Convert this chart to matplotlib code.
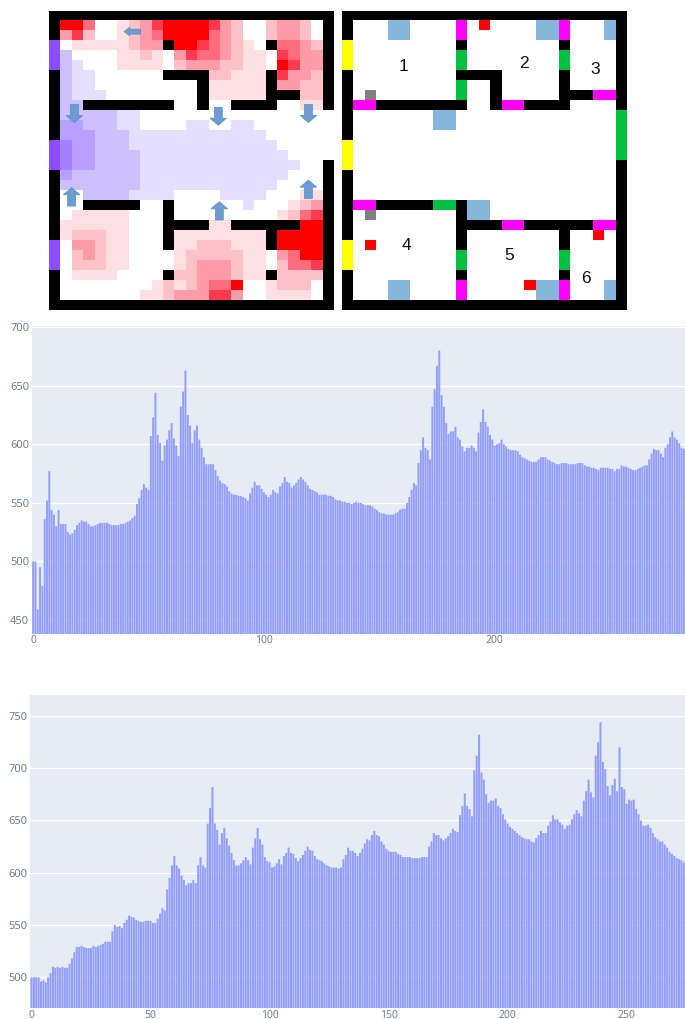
import numpy as np
import matplotlib
matplotlib.use("Agg")
import matplotlib.pyplot as plt
from matplotlib.colors import to_rgb
from matplotlib.patches import FancyArrow

plt.rcParams["font.family"] = ["Open Sans", "DejaVu Sans"]

W, H = 685, 1019

# ── Map grids (25 x 30 cells) ───────────────────────────────────────────────
# 1-6 red levels, p-s purple levels, P door purple, # wall, . empty
HEAT_ROWS = [
    "#########################",
    "#664..12356666532..2332.#",
    "#352..12346666432..2332.#",
    "P.11111233#6654321.#4432#",
    "Pq....1121.35443211.5433#",
    "Pqp...1111.23332211.6533#",
    "#qpp......####22111#5332#",
    "#qpp.........#11111#3322#",
    "#qppp........#11111###22#",
    "#qq########..#..####..11#",
    "#qqqqqpp.................",
    "#rrqqqpp....pp..pp.......",
    "#rrrqqqpppppppppppp......",
    "Psrrqqqppppppppppppp.....",
    "Psrrqqqqppppppppppppp....",
    "Psrrqqqqpppppppppppppp..#",
    "#rqqqqqqppppppppppppp...#",
    "#qqqqqqqpppppppppppp....#",
    "#..qqqqpppp....pppp...11#",
    "#..#####..#......p...123#",
    "#.11111...#.........1245#",
    "#111111...####11######66#",
    "#122211...#11111111#6666#",
    "P.33211...#11222111#6666#",
    "P.23211....12222211.3466#",
    "P.22211....12333211.2445#",
    "#.1111....#22333211#2222#",
    "#........12123446..1222.#",
    "#.......112333553..1111.#",
    "#########################",
]

# Y exit, G open door, M closed door, B furniture, R fire, S grey marker
LAYOUT_ROWS = [
    "#########################",
    "#...BB....M.R....BBM...B#",
    "#...BB....M......BBM...B#",
    "Y.........#........#....#",
    "Y.........G........G....#",
    "Y.........G........G....#",
    "#.........####.....#....#",
    "#.........G..#.....#....#",
    "#.S.......G..#.....###MM#",
    "#MM########..#MM####....#",
    "#.......BB..............G",
    "#.......BB..............G",
    "#.......................G",
    "Y.......................G",
    "Y.......................G",
    "Y.......................#",
    "#.......................#",
    "#.......................#",
    "#.......................#",
    "#MM#####GG#BB...........#",
    "#.S.......#BB...........#",
    "#.........####MM######MM#",
    "#.........#........#..R.#",
    "Y.R.......#........#....#",
    "Y.........G........G....#",
    "Y.........G........G....#",
    "#.........#........#....#",
    "#...BB....M.....RBBM...B#",
    "#...BB....M......BBM...B#",
    "#########################",
]

ROOM_LABELS = ["1", "2", "3", "4", "5", "6"]

# ── Bar series ──────────────────────────────────────────────────────────────
COUNTS_TOP = [
    500, 500, 459, 495, 479, 536, 552, 577, 544, 540, 530, 544, 532, 532, 532,
    525, 523, 524, 527, 531, 533, 535, 534, 534, 532, 530, 530, 531, 532, 533,
    533, 533, 533, 532, 531, 531, 531, 531, 532, 532, 533, 534, 535, 537, 539,
    549, 554, 561, 566, 563, 561, 607, 623, 644, 608, 601, 586, 599, 604, 612,
    618, 605, 599, 590, 632, 645, 663, 625, 616, 601, 612, 616, 604, 597, 589,
    583, 583, 583, 583, 578, 573, 569, 567, 566, 564, 560, 558, 557, 557, 556,
    556, 555, 554, 552, 558, 563, 568, 565, 565, 562, 559, 557, 555, 557, 561,
    559, 558, 564, 567, 572, 568, 567, 563, 565, 567, 570, 572, 570, 568, 565,
    562, 561, 560, 559, 557, 557, 557, 557, 556, 556, 555, 553, 552, 552, 551,
    551, 550, 550, 549, 550, 551, 550, 550, 549, 548, 548, 548, 547, 545, 544,
    542, 541, 541, 540, 540, 540, 540, 541, 542, 544, 545, 545, 550, 555, 561,
    567, 565, 584, 595, 606, 597, 595, 587, 632, 647, 667, 680, 642, 632, 618,
    609, 611, 611, 615, 606, 604, 598, 594, 597, 597, 599, 597, 594, 610, 619,
    630, 619, 615, 608, 604, 599, 600, 601, 604, 600, 598, 596, 595, 595, 595,
    594, 591, 589, 588, 587, 586, 585, 585, 585, 587, 589, 589, 589, 587, 586,
    585, 584, 583, 583, 584, 584, 584, 583, 583, 583, 583, 584, 584, 584, 582,
    581, 581, 580, 580, 579, 578, 580, 580, 580, 580, 579, 579, 577, 579, 579,
    582, 581, 581, 580, 579, 578, 578, 579, 580, 581, 582, 582, 587, 592, 596,
    595, 595, 592, 589, 597, 600, 606, 611, 606, 604, 601, 597, 596,
]

COUNTS_BOTTOM = [
    500, 500, 500, 500, 496, 497, 495, 500, 504, 510, 509, 510, 509, 510, 509,
    509, 513, 518, 524, 529, 529, 530, 529, 528, 528, 528, 530, 529, 530, 531,
    532, 534, 534, 534, 544, 550, 548, 549, 547, 552, 555, 559, 558, 557, 555,
    554, 553, 553, 554, 554, 554, 552, 552, 556, 561, 566, 564, 584, 595, 607,
    616, 607, 604, 597, 593, 588, 590, 590, 593, 590, 607, 615, 607, 605, 647,
    662, 682, 647, 641, 627, 638, 643, 633, 626, 619, 612, 607, 607, 609, 612,
    615, 612, 608, 624, 633, 643, 632, 627, 615, 611, 610, 605, 606, 609, 613,
    608, 616, 619, 624, 619, 618, 614, 611, 614, 617, 621, 625, 622, 621, 616,
    613, 612, 611, 609, 607, 606, 605, 605, 605, 604, 605, 613, 617, 624, 621,
    621, 619, 616, 619, 623, 628, 632, 631, 636, 640, 636, 635, 630, 627, 623,
    621, 620, 620, 620, 618, 617, 615, 615, 615, 615, 614, 614, 614, 614, 615,
    615, 615, 625, 630, 638, 636, 636, 633, 631, 633, 635, 638, 642, 640, 639,
    655, 664, 676, 664, 661, 654, 698, 712, 732, 696, 689, 675, 667, 669, 669,
    671, 664, 662, 656, 651, 647, 644, 642, 640, 638, 636, 634, 633, 632, 632,
    630, 629, 633, 636, 640, 638, 638, 645, 649, 655, 651, 651, 648, 646, 642,
    645, 646, 651, 656, 660, 657, 654, 669, 678, 689, 677, 672, 712, 725, 744,
    706, 699, 683, 674, 684, 690, 678, 720, 682, 680, 666, 670, 669, 670, 661,
    656, 650, 645, 645, 646, 643, 638, 634, 632, 630, 630, 627, 624, 620, 618,
    616, 614, 613, 612, 610,
]

XTICKS_TOP = [0, 100, 200]
YTICKS_TOP = [450, 500, 550, 600, 650, 700]
XTICKS_BOTTOM = [0, 50, 100, 150, 200, 250]
YTICKS_BOTTOM = [500, 550, 600, 650, 700, 750]

# ── Palette ─────────────────────────────────────────────────────────────────
CELL_COLORS = {
    ".": "#FFFFFF", "#": "#000000",
    "1": "#FFE0E2", "2": "#FFC0C8", "3": "#FF9CA8",
    "4": "#FF6C7C", "5": "#FF3A50", "6": "#FF0000",
    "p": "#E4DEFF", "q": "#CDC0FF", "r": "#B9A0FF", "s": "#A280FF",
    "P": "#8C4CFF",
    "Y": "#FFFF00", "G": "#00C040", "M": "#FF00FF",
    "B": "#85B6DC", "R": "#FF0000", "S": "#808080",
}
ARROW_FILL = "#6C9DD2"
ARROW_EDGE = "#5A8CC0"
PLOT_BG = "#E5ECF6"
BAR_COLOR = "#939EF8"
TICK_COLOR = "#66758C"


def px_axes(fig, left, top, right, bottom):
    return fig.add_axes([left / W, 1 - bottom / H, (right - left) / W, (bottom - top) / H])


def draw_grid(ax, rows):
    img = np.array([[to_rgb(CELL_COLORS[c]) for c in row] for row in rows])
    ax.imshow(img, extent=(0, 25, 30, 0), aspect="auto", interpolation="nearest")
    ax.axis("off")


def add_arrow(ax, x, y, dx, dy):
    if dx == 0:
        body, head, head_len = 0.7, 1.46, 0.72
    else:
        body, head, head_len = 0.5, 0.85, 0.5
    ax.add_patch(FancyArrow(x, y, dx, dy, width=body, head_width=head, head_length=head_len,
                            length_includes_head=True, facecolor=ARROW_FILL,
                            edgecolor=ARROW_EDGE, linewidth=0.5, zorder=3))


def draw_bars(ax, counts, xticks, yticks, ylim):
    x = np.arange(len(counts))
    ax.set_facecolor(PLOT_BG)
    # snapping off, otherwise the thin gaps between bars alias into bands
    ax.bar(x, counts, width=0.85, color=BAR_COLOR, linewidth=0, zorder=3, snap=False)
    ax.set_xlim(-0.5, len(counts) - 0.5)
    ax.set_ylim(*ylim)
    ax.set_xticks(xticks)
    ax.set_yticks(yticks)
    ax.grid(axis="y", color="white", linewidth=1, zorder=0)
    ax.set_axisbelow(True)
    ax.tick_params(axis="y", length=0, labelsize=8, colors=TICK_COLOR, pad=2)
    ax.tick_params(axis="x", length=0, labelsize=7.5, colors=TICK_COLOR, pad=1)
    ax.spines[:].set_visible(False)


fig = plt.figure(figsize=(W / 100, H / 100), dpi=100, facecolor="white")

# ── Heat map ────────────────────────────────────────────────────────────────
ax_heat = px_axes(fig, 49.3, 11, 334, 310)
draw_grid(ax_heat, HEAT_ROWS)
add_arrow(ax_heat, 8.02, 2.07, -1.46, 0)
add_arrow(ax_heat, 2.2, 9.36, 0, 1.84)
add_arrow(ax_heat, 14.84, 9.67, 0, 1.8)
add_arrow(ax_heat, 22.75, 9.36, 0, 1.84)
add_arrow(ax_heat, 1.96, 19.57, 0, -1.85)
add_arrow(ax_heat, 14.93, 20.97, 0, -1.84)
add_arrow(ax_heat, 22.75, 18.8, 0, -1.84)

# ── Layout map ──────────────────────────────────────────────────────────────
ax_plan = px_axes(fig, 341.7, 11, 626, 310)
draw_grid(ax_plan, LAYOUT_ROWS)
label_pos = [(5.42, 5.59), (16.06, 5.25), (22.3, 5.85), (5.72, 23.54), (14.71, 24.58), (21.48, 26.85)]
for label, (cx, cy) in zip(ROOM_LABELS, label_pos):
    ax_plan.text(cx, cy, label, ha="center", va="center", fontsize=12.5,
                 family="Liberation Sans", color="#111111")

# ── Bar charts ──────────────────────────────────────────────────────────────
ax_top = px_axes(fig, 32, 326, 685, 633.7)
draw_bars(ax_top, COUNTS_TOP, XTICKS_TOP, YTICKS_TOP, (438.3, 701))

ax_bottom = px_axes(fig, 30.3, 695.3, 685, 1008.3)
draw_bars(ax_bottom, COUNTS_BOTTOM, XTICKS_BOTTOM, YTICKS_BOTTOM, (470.3, 769.8))

fig.savefig("out.png", dpi=100, facecolor="white")
